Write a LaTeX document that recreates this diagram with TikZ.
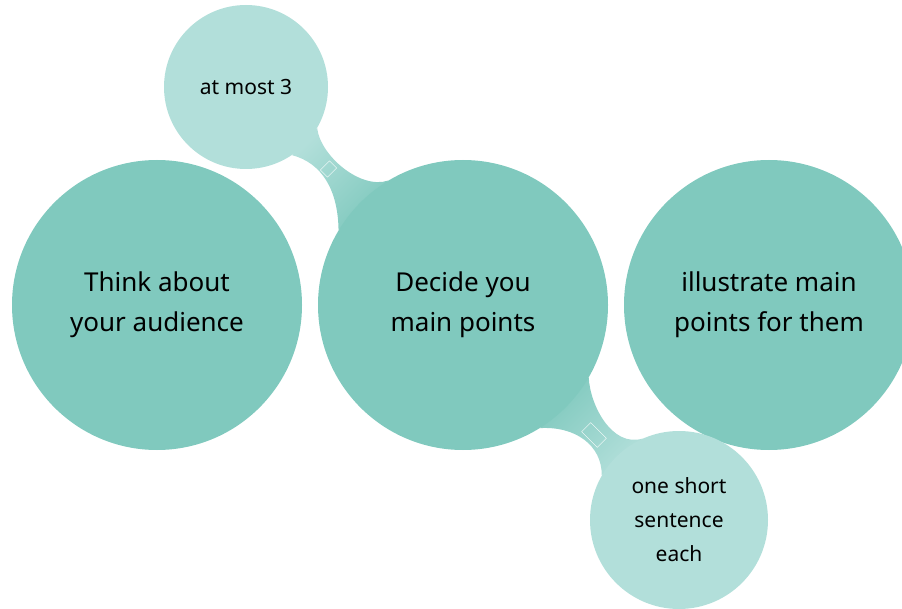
\documentclass[tikz,border=0pt]{standalone}
\usepackage{fontspec}
\setmainfont{Noto Sans}
\usepackage{tikz}
\usetikzlibrary{positioning,backgrounds}
\definecolor{mainteal}{RGB}{128,201,190}
\definecolor{lightteal}{RGB}{178,223,218}
\tikzset{
  bigcircle/.style={circle, fill=mainteal, minimum size=290pt,
    inner sep=0pt, align=center, font=\fontsize{26}{40}\selectfont},
  smallcircle/.style={circle, fill=lightteal, inner sep=0pt,
    align=center, font=\fontsize{21}{34}\selectfont},
  upbridge/.style={top color=lightteal, bottom color=mainteal,
    shading angle=45},
  downbridge/.style={top color=lightteal, bottom color=mainteal,
    shading angle=-135},
  joint/.style={draw=white, line width=0.4pt, inner sep=0pt, rotate=-45},
}

\begin{document}
\begin{tikzpicture}[x=1pt, y=-1pt]
  \useasboundingbox (0,0) rectangle (902,609);

  % main steps
  \node[bigcircle] (audience) at (157,305) {Think about\\your audience};
  \node[bigcircle] (points) at (463,305) {Decide you\\main points};
  \node[bigcircle] (illustrate) at (769,305)
    {illustrate main\\points for them};

  % sub-points
  \node[smallcircle, minimum size=164pt] (most) at (246,87) {at most 3};
  \node[smallcircle, minimum size=178pt] (short) at (679,520)
    {one short\\sentence\\each};

  % bridges between the circles
  \begin{scope}[on background layer]
    \shade[upbridge] (most.-30) .. controls (320,155) and (360,190)
      .. (points.121) -- (points.149) .. controls (338,190) and (322,163)
      .. (most.-56) -- cycle;
    \shade[downbridge] (points.-30) .. controls (590,405) and (612,448)
      .. (short.114) -- (short.150) .. controls (602,445) and (575,426)
      .. (points.-58) -- cycle;
  \end{scope}

  % joint marks
  \node[joint, minimum width=10pt, minimum height=13pt] (j1)
    at (328.5,169) {};
  \node[joint, minimum width=22pt, minimum height=13pt] (j2)
    at (594,435) {};
\end{tikzpicture}
\end{document}
